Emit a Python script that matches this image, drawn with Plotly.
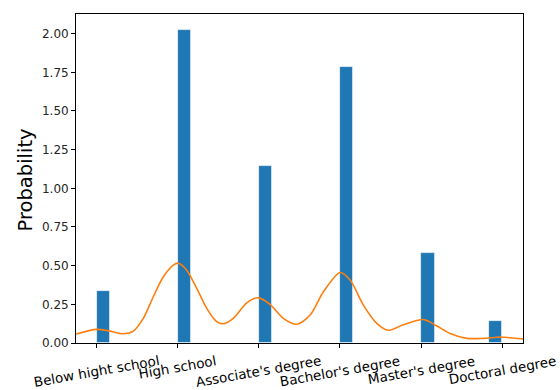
import plotly.graph_objects as go

# ---- data ----
categories = ["Below hight school", "High school", "Associate's degree",
              "Bachelor's degree", "Master's degree", "Doctoral degree"]
category_pos = [0, 1, 2, 3, 4, 5]
density = [0.335, 2.026, 1.142, 1.783, 0.580, 0.140]
bin_width = 5 / 30
bar_offset = [0, 0, 0, 0, 0, -5 / 30]

kde_x = [-0.255, 0.0, 0.164, 0.328, 0.452, 0.575, 0.698, 0.822, 0.945, 1.007,
         1.110, 1.234, 1.357, 1.480, 1.562, 1.685, 1.851, 1.994, 2.138, 2.302,
         2.467, 2.632, 2.796, 3.002, 3.125, 3.289, 3.454, 3.597, 3.782, 4.030,
         4.195, 4.359, 4.565, 4.770, 4.976, 5.099, 5.257]
kde_y = [0.058, 0.088, 0.077, 0.060, 0.077, 0.159, 0.299, 0.428, 0.504, 0.516,
         0.471, 0.353, 0.224, 0.138, 0.125, 0.159, 0.260, 0.292, 0.250, 0.159,
         0.121, 0.181, 0.331, 0.456, 0.407, 0.245, 0.127, 0.082, 0.118, 0.152,
         0.110, 0.062, 0.030, 0.030, 0.039, 0.034, 0.026]

y_ticks = [0, 0.25, 0.5, 0.75, 1.0, 1.25, 1.5, 1.75, 2.0]

FONT = "DejaVu Sans"

fig = go.Figure()
fig.add_trace(go.Bar(
    x=category_pos, y=density, width=bin_width, offset=bar_offset,
    marker=dict(color="#1f77b4", line=dict(color="rgba(255,255,255,0.8)", width=0.8)),
    showlegend=False, hoverinfo="skip",
))
fig.add_trace(go.Scatter(
    x=kde_x, y=kde_y, mode="lines",
    line=dict(color="#ff7f0e", width=1.6, shape="spline", smoothing=0.8),
    showlegend=False, hoverinfo="skip",
))

annotations = []
for pos, lab in zip(category_pos, categories):
    annotations.append(dict(
        x=pos, y=0, xref="x", yref="paper", text=lab, showarrow=False,
        textangle=-10, xanchor="center", yanchor="top", yshift=-7,
        font=dict(family=FONT, size=13.5, color="black"),
    ))
annotations.append(dict(
    x=0, y=0.5, xref="paper", yref="paper", text="Probability", showarrow=False,
    textangle=-90, xanchor="center", yanchor="middle", xshift=-51, yshift=-2,
    font=dict(family=FONT, size=19.5, color="black"),
))

fig.update_layout(
    width=560, height=390,
    margin=dict(l=76, r=37, t=14, b=47),
    paper_bgcolor="white", plot_bgcolor="white",
    bargap=0,
    annotations=annotations,
    font=dict(family=FONT, color="black"),
)
fig.update_xaxes(
    range=[-0.255, 5.257], tickvals=category_pos, showticklabels=False,
    ticks="outside", ticklen=4, tickwidth=0.8, tickcolor="black",
    showline=True, mirror=True, linecolor="black", linewidth=0.8,
    showgrid=False, zeroline=False,
)
fig.update_yaxes(
    range=[0, 2.127], tickvals=y_ticks, tickformat=".2f",
    ticks="outside", ticklen=4, tickwidth=0.8, tickcolor="black",
    tickfont=dict(family=FONT, size=12, color="#262626"),
    showline=True, mirror=True, linecolor="black", linewidth=0.8,
    showgrid=False, zeroline=False,
)

fig.write_html(
    "out.html",
    config={"displayModeBar": False},
    post_script="document.body.style.margin='0';document.body.style.overflow='hidden';",
)
